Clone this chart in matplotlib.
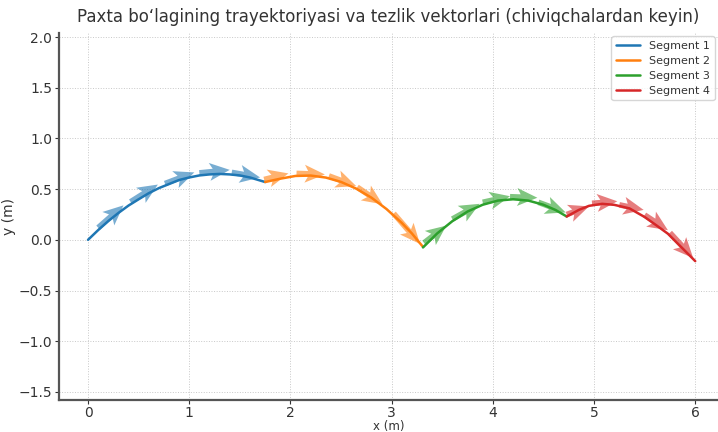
import matplotlib
matplotlib.use("Agg")
import matplotlib.pyplot as plt

# ---- data ----
seg_labels = ["Segment 1", "Segment 2", "Segment 3", "Segment 4"]
seg_colors = ["#1f77b4", "#ff7f0e", "#2ca02c", "#d62728"]

seg1_x = [0.0, 0.1, 0.2, 0.3, 0.4, 0.5, 0.6, 0.7, 0.8, 0.9, 1.0, 1.1, 1.2, 1.3, 1.4, 1.5, 1.6, 1.75]
seg1_y = [0.0, 0.096, 0.185, 0.265, 0.338, 0.40, 0.46, 0.51, 0.55, 0.59, 0.615, 0.635, 0.645, 0.65, 0.645, 0.635, 0.615, 0.57]

seg2_x = [1.75, 1.9, 2.05, 2.2, 2.35, 2.5, 2.65, 2.8, 2.95, 3.1, 3.2, 3.31]
seg2_y = [0.57, 0.603, 0.63, 0.634, 0.614, 0.571, 0.505, 0.416, 0.303, 0.167, 0.063, -0.07]

seg3_x = [3.31, 3.45, 3.6, 3.75, 3.9, 4.05, 4.2, 4.35, 4.5, 4.62, 4.73]
seg3_y = [-0.075, 0.063, 0.184, 0.279, 0.346, 0.387, 0.40, 0.387, 0.346, 0.294, 0.23]

seg4_x = [4.73, 4.85, 4.95, 5.08, 5.2, 5.35, 5.5, 5.62, 5.73, 5.85, 6.0]
seg4_y = [0.23, 0.295, 0.335, 0.355, 0.345, 0.31, 0.225, 0.14, 0.06, -0.06, -0.21]

# velocity arrows (tail position and vector, data units)
arr1_x = [0.10, 0.42, 0.76, 1.10, 1.42]
arr1_y = [0.12, 0.375, 0.555, 0.66, 0.665]
arr1_u = [0.25, 0.27, 0.29, 0.30, 0.28]
arr1_v = [0.22, 0.17, 0.11, 0.03, -0.05]

arr2_x = [1.74, 2.06, 2.38, 2.66, 3.02]
arr2_y = [0.595, 0.655, 0.63, 0.52, 0.26]
arr2_u = [0.24, 0.28, 0.27, 0.25, 0.26]
arr2_v = [0.06, -0.01, -0.10, -0.17, -0.30]

arr3_x = [3.32, 3.60, 3.90, 4.17, 4.45]
arr3_y = [-0.03, 0.205, 0.37, 0.425, 0.37]
arr3_u = [0.22, 0.27, 0.27, 0.27, 0.27]
arr3_v = [0.17, 0.15, 0.06, -0.01, -0.10]

arr4_x = [4.73, 4.98, 5.25, 5.50, 5.75]
arr4_y = [0.25, 0.36, 0.345, 0.245, 0.07]
arr4_u = [0.22, 0.25, 0.24, 0.23, 0.23]
arr4_v = [0.08, 0.02, -0.05, -0.15, -0.25]

xticks = [0, 1, 2, 3, 4, 5, 6]
yticks = [-1.5, -1.0, -0.5, 0.0, 0.5, 1.0, 1.5, 2.0]

title = "Paxta bo\u2018lagining trayektoriyasi va tezlik vektorlari (chiviqchalardan keyin)"

# ---- figure ----
fig = plt.figure(figsize=(7.18, 4.32), dpi=100)
ax = fig.add_axes([59 / 718, 32 / 432, 659 / 718, 367 / 432])

segs = [(seg1_x, seg1_y), (seg2_x, seg2_y), (seg3_x, seg3_y), (seg4_x, seg4_y)]
arrs = [(arr1_x, arr1_y, arr1_u, arr1_v), (arr2_x, arr2_y, arr2_u, arr2_v),
        (arr3_x, arr3_y, arr3_u, arr3_v), (arr4_x, arr4_y, arr4_u, arr4_v)]

for (sx, sy), (qx, qy, qu, qv), c, lab in zip(segs, arrs, seg_colors, seg_labels):
    ax.plot(sx, sy, color=c, lw=1.8, label=lab, zorder=3, solid_capstyle="round")
    ax.quiver(qx, qy, qu, qv, angles="xy", scale_units="xy", scale=1,
              color=c, alpha=0.6, width=0.0085, headwidth=3.2,
              headlength=3.6, headaxislength=3.0, zorder=4)

ax.set_xlim(-0.287, 6.225)
ax.set_ylim(-1.58, 2.04)
ax.set_xticks(xticks)
ax.set_yticks(yticks)

ax.grid(True, linestyle=":", linewidth=0.7, color="#c8c8c8")
for s in ["top", "right"]:
    ax.spines[s].set_visible(False)
for s in ["left", "bottom"]:
    ax.spines[s].set_color("#555555")
    ax.spines[s].set_linewidth(1.6)
ax.tick_params(axis="both", labelsize=10, colors="#333333", length=3, width=0.8, pad=2)
ax.tick_params(axis="x", pad=1.5)

ax.set_xlabel("x (m)", fontsize=8.5, color="#333333", labelpad=0)
ax.set_ylabel("y (m)", fontsize=10, color="#333333", labelpad=2)
ax.set_title(title, fontsize=12, color="#333333", pad=8)

leg = ax.legend(loc="upper right", fontsize=8, frameon=True, borderaxespad=0.3,
                handlelength=2.2, labelspacing=0.45, fancybox=True)
leg.get_frame().set_edgecolor("#cccccc")
for line in leg.get_lines():
    line.set_linewidth(1.8)
for t in leg.get_texts():
    t.set_color("#333333")

fig.savefig("out.png", dpi=100)
